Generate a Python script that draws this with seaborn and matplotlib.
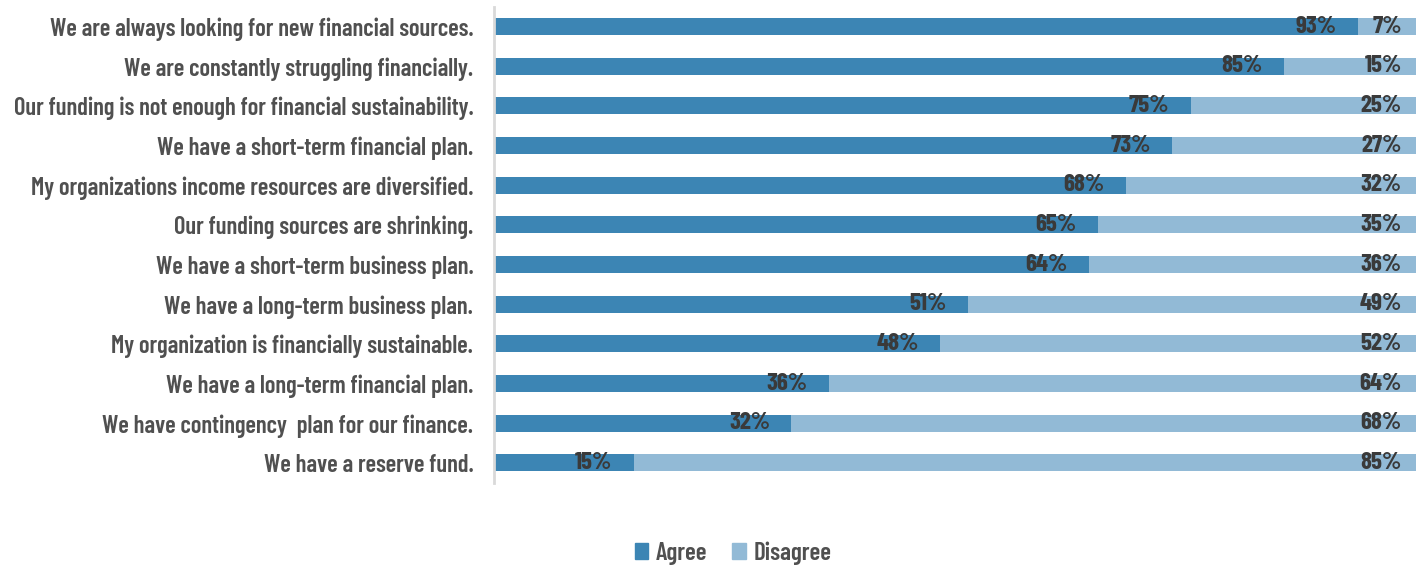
import matplotlib
matplotlib.use("Agg")
import matplotlib.pyplot as plt
import seaborn as sns
import pandas as pd
from matplotlib import font_manager
from matplotlib.patches import Patch

statements = [
    "We are always looking for new financial sources.",
    "We are constantly struggling financially.",
    "Our funding is not enough for financial sustainability.",
    "We have a short-term financial plan.",
    "My organizations income resources are diversified.",
    "Our funding sources are shrinking.",
    "We have a short-term business plan.",
    "We have a long-term business plan.",
    "My organization is financially sustainable.",
    "We have a long-term financial plan.",
    "We have contingency  plan for our finance.",
    "We have a reserve fund.",
]
agree = [93, 85, 75, 73, 68, 65, 64, 51, 48, 36, 32, 15]
disagree = [7, 15, 25, 27, 32, 35, 36, 49, 52, 64, 68, 85]

names = {f.name for f in font_manager.fontManager.ttflist}
fam = "DejaVu Sans"
for cand in ["Barlow Condensed", "Roboto Condensed", "Liberation Sans Narrow", "PT Sans Narrow"]:
    if cand in names:
        fam = cand
        break
sns.set_theme(style="white")
plt.rcParams["font.family"] = [fam, "DejaVu Sans"]

df = pd.DataFrame({"statement": statements, "agree": agree, "disagree": disagree})
df["total"] = df["agree"] + df["disagree"]

c_agree = "#3c85b4"
c_dis = "#92bad6"
wt = 600

fig = plt.figure(figsize=(14.16, 5.66), dpi=100)
ax = fig.add_axes([0.349, 0.147, 0.656, 0.841])

sns.barplot(data=df, y="statement", x="total", color=c_dis, orient="h", width=0.43, ax=ax,
            saturation=1, linewidth=0)
sns.barplot(data=df, y="statement", x="agree", color=c_agree, orient="h", width=0.43, ax=ax,
            saturation=1, linewidth=0)

for i, (a, d) in enumerate(zip(agree, disagree)):
    ax.text(a - 2.3, i, f"{a}%", ha="right", va="center", fontsize=18, fontweight=700, color="#3a3a3a")
    ax.text(a + d - 2.3, i, f"{d}%", ha="right", va="center", fontsize=18, fontweight=700, color="#3a3a3a")

ax.set_xlim(0, 100)
ax.set_ylim(11.5, -0.5)
ax.set_xlabel("")
ax.set_ylabel("")
ax.set_xticks([])
ax.tick_params(axis="y", length=0, pad=15, labelsize=17.7, labelcolor="#505050")
for lbl in ax.get_yticklabels():
    lbl.set_fontweight(wt)
for s in ["top", "right", "bottom"]:
    ax.spines[s].set_visible(False)
ax.spines["left"].set_color("#d9d9d9")
ax.spines["left"].set_linewidth(2)

handles = [Patch(color=c_agree, label="Agree"), Patch(color=c_dis, label="Disagree")]
leg = fig.legend(handles=handles, loc="center", bbox_to_anchor=(733 / 1416, 1 - 553 / 566), ncol=2,
                 frameon=False, handlelength=0.55, handleheight=0.6, handletextpad=0.3, columnspacing=1.0,
                 prop={"size": 18, "weight": wt, "family": [fam, "DejaVu Sans"]})
for t in leg.get_texts():
    t.set_color("#505050")

fig.savefig("out.png", dpi=100)
